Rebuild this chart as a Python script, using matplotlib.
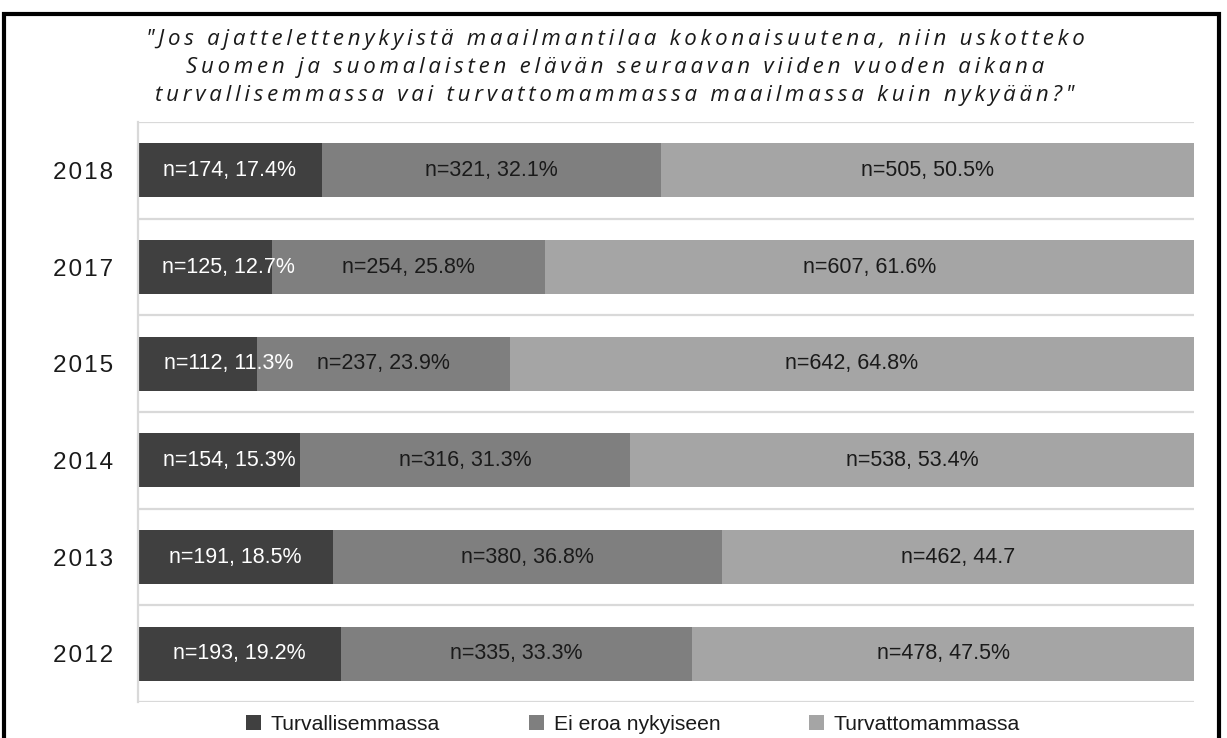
import matplotlib
matplotlib.use('Agg')
import matplotlib.pyplot as plt
from matplotlib.patches import Rectangle, Patch
import numpy as np

years = ['2018', '2017', '2015', '2014', '2013', '2012']
series_names = ['Turvallisemmassa', 'Ei eroa nykyiseen', 'Turvattomammassa']
n_turv = [174, 125, 112, 154, 191, 193]
pct_turv = [17.4, 12.7, 11.3, 15.3, 18.5, 19.2]
n_ei = [321, 254, 237, 316, 380, 335]
pct_ei = [32.1, 25.8, 23.9, 31.3, 36.8, 33.3]
n_turvat = [505, 607, 642, 538, 462, 478]
pct_turvat = [50.5, 61.6, 64.8, 53.4, 44.7, 47.5]
pct_sign_turvat = ['%', '%', '%', '%', '', '%']   # 2013 label has no percent sign

title_lines = [
    '"Jos ajattelettenykyistä maailmantilaa kokonaisuutena, niin uskotteko',
    'Suomen ja suomalaisten elävän seuraavan viiden vuoden aikana',
    'turvallisemmassa vai turvattomammassa maailmassa kuin nykyään?"',
]

colors = ['#404040', '#7f7f7f', '#a5a5a5']
W, H = 1227, 738

regular = ['Liberation Sans', 'DejaVu Sans']

fig = plt.figure(figsize=(W / 100, H / 100), dpi=100)
ax = fig.add_axes([138 / W, 1 - 702 / H, (1194 - 138) / W, (702 - 122) / H])

y = np.arange(len(years))
bh = 0.56
lefts = np.zeros(len(years))
for vals, col in zip([pct_turv, pct_ei, pct_turvat], colors):
    ax.barh(y, vals, left=lefts, height=bh, color=col, edgecolor='none', zorder=2)
    lefts = lefts + np.array(vals)

ax.set_xlim(0, 100)
ax.set_ylim(len(years) - 0.5, -0.5)

# band separators
for k in range(len(years) + 1):
    ax.axhline(k - 0.5, color='#d9d9d9', lw=1.6, zorder=1)

for s in ['top', 'right', 'bottom']:
    ax.spines[s].set_visible(False)
ax.spines['left'].set_color('#d9d9d9')
ax.spines['left'].set_linewidth(1.6)
ax.set_xticks([])
ax.set_yticks(y)
ax.set_yticklabels(['\u200a'.join(list(t)) for t in years], fontsize=17.5,
                   family=regular, color='#1a1a1a')
ax.tick_params(axis='y', length=0, pad=18)

# labels
lab_fs = 15.5
for i in range(len(years)):
    c1 = max(pct_turv[i] / 2, 8.6)
    ax.text(c1, y[i], f'n={n_turv[i]}, {pct_turv[i]:.1f}%', ha='center', va='center',
            color='white', fontsize=lab_fs, family=regular, zorder=3)
    c2 = pct_turv[i] + pct_ei[i] / 2
    ax.text(c2, y[i], f'n={n_ei[i]}, {pct_ei[i]:.1f}%', ha='center', va='center',
            color='#1a1a1a', fontsize=lab_fs, family=regular, zorder=3)
    c3 = pct_turv[i] + pct_ei[i] + pct_turvat[i] / 2
    ax.text(c3, y[i], f'n={n_turvat[i]}, {pct_turvat[i]:.1f}{pct_sign_turvat[i]}', ha='center',
            va='center', color='#1a1a1a', fontsize=lab_fs, family=regular, zorder=3)

# title
tfam = ['Open Sans', 'DejaVu Sans']
for j, line in enumerate(title_lines):
    spaced = '\u2009'.join(list(line))
    fig.text(615 / W, 1 - (40 + 28 * j) / H, spaced, ha='center', va='center',
             fontsize=16, style='italic', family=tfam, color='#1a1a1a')

# legend
handles = [Patch(facecolor=c, edgecolor='none') for c in colors]
leg = fig.legend(handles, series_names, loc='center', bbox_to_anchor=(633 / W, 1 - 724 / H),
                 ncol=3, frameon=False, handlelength=0.72, handleheight=0.72,
                 handletextpad=0.45, columnspacing=4.2,
                 prop={'family': regular, 'size': 15.2})
for t in leg.get_texts():
    t.set_color('#1a1a1a')

# outer frame
fig.patches.append(Rectangle((4 / W, -0.05), (1219 - 4) / W, (H - 14) / H + 0.05,
                             transform=fig.transFigure, fill=False, edgecolor='black',
                             linewidth=3, zorder=10))

fig.savefig('out.png', dpi=100)
